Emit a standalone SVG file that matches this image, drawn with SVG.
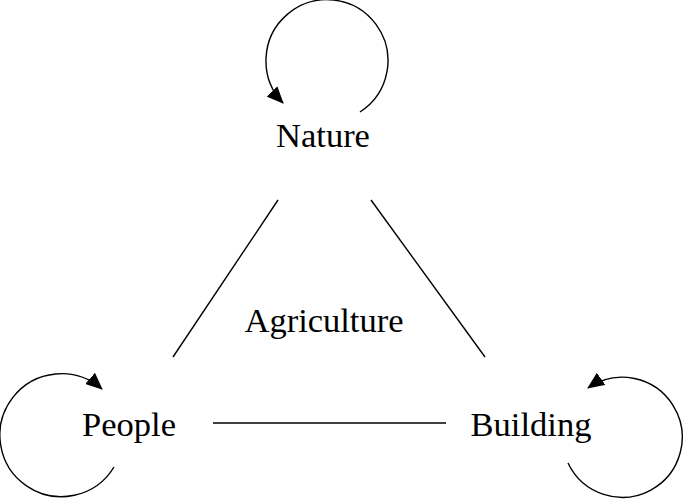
<svg xmlns="http://www.w3.org/2000/svg" width="685" height="499" viewBox="0 0 685 499">
<style>
  .lbl { font-family: "Liberation Serif", "Times New Roman", serif; font-size: 34.5px; fill: #000; text-anchor: middle; }
  .edge { stroke: #000; stroke-width: 1.4; fill: none; }
</style>
<defs>
  <marker id="arr" viewBox="0 0 17 15" refX="16" refY="7.5" markerWidth="17" markerHeight="15" markerUnits="userSpaceOnUse" orient="auto">
    <path d="M0,0 L17,7.5 L0,15 z" fill="#000"/>
  </marker>
</defs>
<rect width="685" height="499" fill="#fff"/>
<g id="connectors">
  <line class="edge" x1="278" y1="200" x2="173" y2="357"/>
  <line class="edge" x1="371" y1="200" x2="485" y2="357"/>
  <line class="edge" x1="213" y1="423" x2="446" y2="423"/>
  <path class="edge" d="M360,112 A61,61 0 1 0 283,103" marker-end="url(#arr)"/>
  <path class="edge" d="M114,467 A61.5,61.5 0 1 1 102,389" marker-end="url(#arr)"/>
  <path class="edge" d="M568,463 A60,60 0 1 0 588,388" marker-end="url(#arr)"/>
</g>
<g id="nature"><text class="lbl" x="323" y="147">Nature</text></g>
<g id="agriculture"><text class="lbl" x="324" y="332">Agriculture</text></g>
<g id="people"><text class="lbl" x="129" y="436">People</text></g>
<g id="building"><text class="lbl" x="531" y="436">Building</text></g>
</svg>
